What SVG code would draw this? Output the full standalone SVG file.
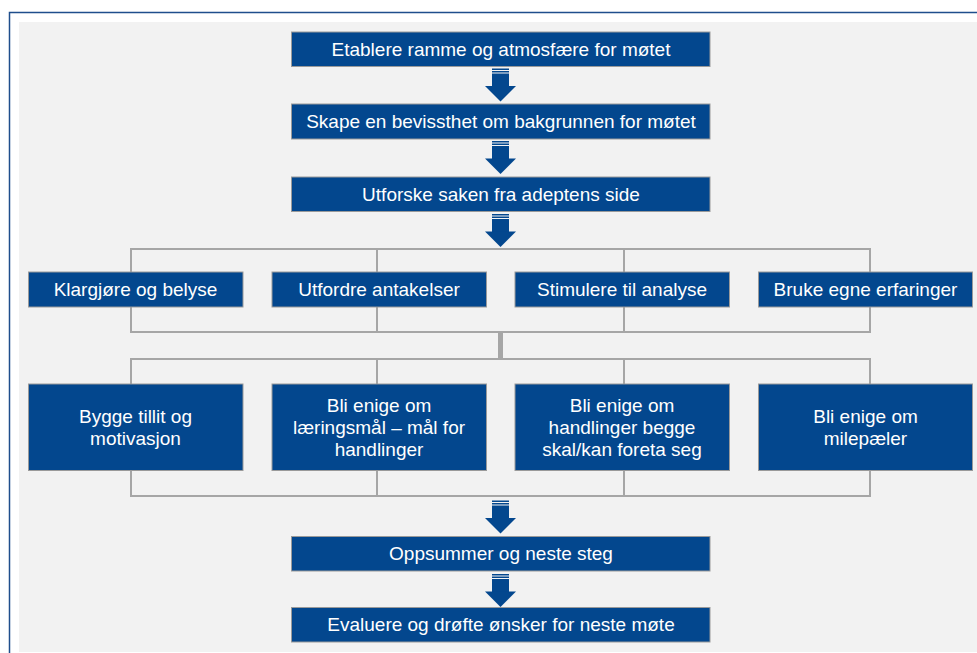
<svg xmlns="http://www.w3.org/2000/svg" width="977" height="653" viewBox="0 0 977 653">
<style>
.box{fill:#03478e;stroke:#9a9a9a;stroke-width:1}
.t{font-family:"Liberation Sans",Arial,sans-serif;font-size:19px;fill:#ffffff;text-anchor:middle}
.c{fill:none;stroke:#a6a6a6;stroke-width:2}
.ar{fill:#03478e}
</style>
<defs>
<g id="arrow">
<rect class="ar" x="-8.5" y="0" width="17" height="1.5"/>
<rect class="ar" x="-8.5" y="2.5" width="17" height="1.5"/>
<rect class="ar" x="-8.5" y="5" width="17" height="13"/>
<polygon class="ar" points="-15.5,17.5 15.5,17.5 0,33"/>
</g>
</defs>
<rect x="0" y="0" width="977" height="653" fill="#ffffff"/>
<rect x="9.5" y="12.5" width="1000" height="700" fill="#ffffff" stroke="#1f4e8c" stroke-width="1.5"/>
<rect x="19" y="22" width="960" height="630" fill="#f2f2f2"/>

<g id="connectors">
<path class="c" d="M131,272 V249 H870 V272 M377,249 V272 M624,249 V272"/>
<path class="c" d="M131,307 V332 H870 V307 M377,307 V332 M624,307 V332"/>
<path d="M500.5,332 V359" stroke="#a6a6a6" stroke-width="5" fill="none"/>
<path class="c" d="M131,384 V359 H870 V384 M377,359 V384 M624,359 V384"/>
<path class="c" d="M131,470 V496 H870 V470 M377,470 V496 M624,470 V496"/>
<use href="#arrow" x="500.5" y="68.5"/>
<use href="#arrow" x="500.5" y="141"/>
<use href="#arrow" x="500.5" y="214"/>
<use href="#arrow" x="500.5" y="500.5"/>
<use href="#arrow" x="500.5" y="574"/>
</g>

<g id="n1"><rect class="box" x="291.5" y="32" width="418.5" height="34.5"/><text class="t" x="501" y="55.8">Etablere ramme og atmosfære for møtet</text></g>
<g id="n2"><rect class="box" x="291.5" y="104" width="418.5" height="35"/><text class="t" x="501" y="128">Skape en bevissthet om bakgrunnen for møtet</text></g>
<g id="n3"><rect class="box" x="291.5" y="177" width="418.5" height="34.5"/><text class="t" x="501" y="200.8">Utforske saken fra adeptens side</text></g>

<g id="n4a"><rect class="box" x="28.5" y="272" width="214.5" height="35"/><text class="t" x="135.5" y="296">Klargjøre og belyse</text></g>
<g id="n4b"><rect class="box" x="272" y="272" width="214.5" height="35"/><text class="t" x="379" y="296">Utfordre antakelser</text></g>
<g id="n4c"><rect class="box" x="515" y="272" width="214.5" height="35"/><text class="t" x="622" y="296">Stimulere til analyse</text></g>
<g id="n4d"><rect class="box" x="758.5" y="272" width="214" height="35"/><text class="t" x="865.5" y="296">Bruke egne erfaringer</text></g>

<g id="n5a"><rect class="box" x="28.5" y="384" width="214.5" height="86.5"/><text class="t" x="135.5" y="423">Bygge tillit og</text><text class="t" x="135.5" y="445">motivasjon</text></g>
<g id="n5b"><rect class="box" x="272" y="384" width="214.5" height="86.5"/><text class="t" x="379" y="412">Bli enige om</text><text class="t" x="379" y="434">læringsmål – mål for</text><text class="t" x="379" y="456">handlinger</text></g>
<g id="n5c"><rect class="box" x="515" y="384" width="214.5" height="86.5"/><text class="t" x="622" y="412">Bli enige om</text><text class="t" x="622" y="434">handlinger begge</text><text class="t" x="622" y="456">skal/kan foreta seg</text></g>
<g id="n5d"><rect class="box" x="758.5" y="384" width="214" height="86.5"/><text class="t" x="865.5" y="423">Bli enige om</text><text class="t" x="865.5" y="445">milepæler</text></g>

<g id="n6"><rect class="box" x="291.5" y="536.5" width="418.5" height="34.5"/><text class="t" x="501" y="560.3">Oppsummer og neste steg</text></g>
<g id="n7"><rect class="box" x="291.5" y="607.5" width="418.5" height="34.5"/><text class="t" x="501" y="631.3">Evaluere og drøfte ønsker for neste møte</text></g>
</svg>
